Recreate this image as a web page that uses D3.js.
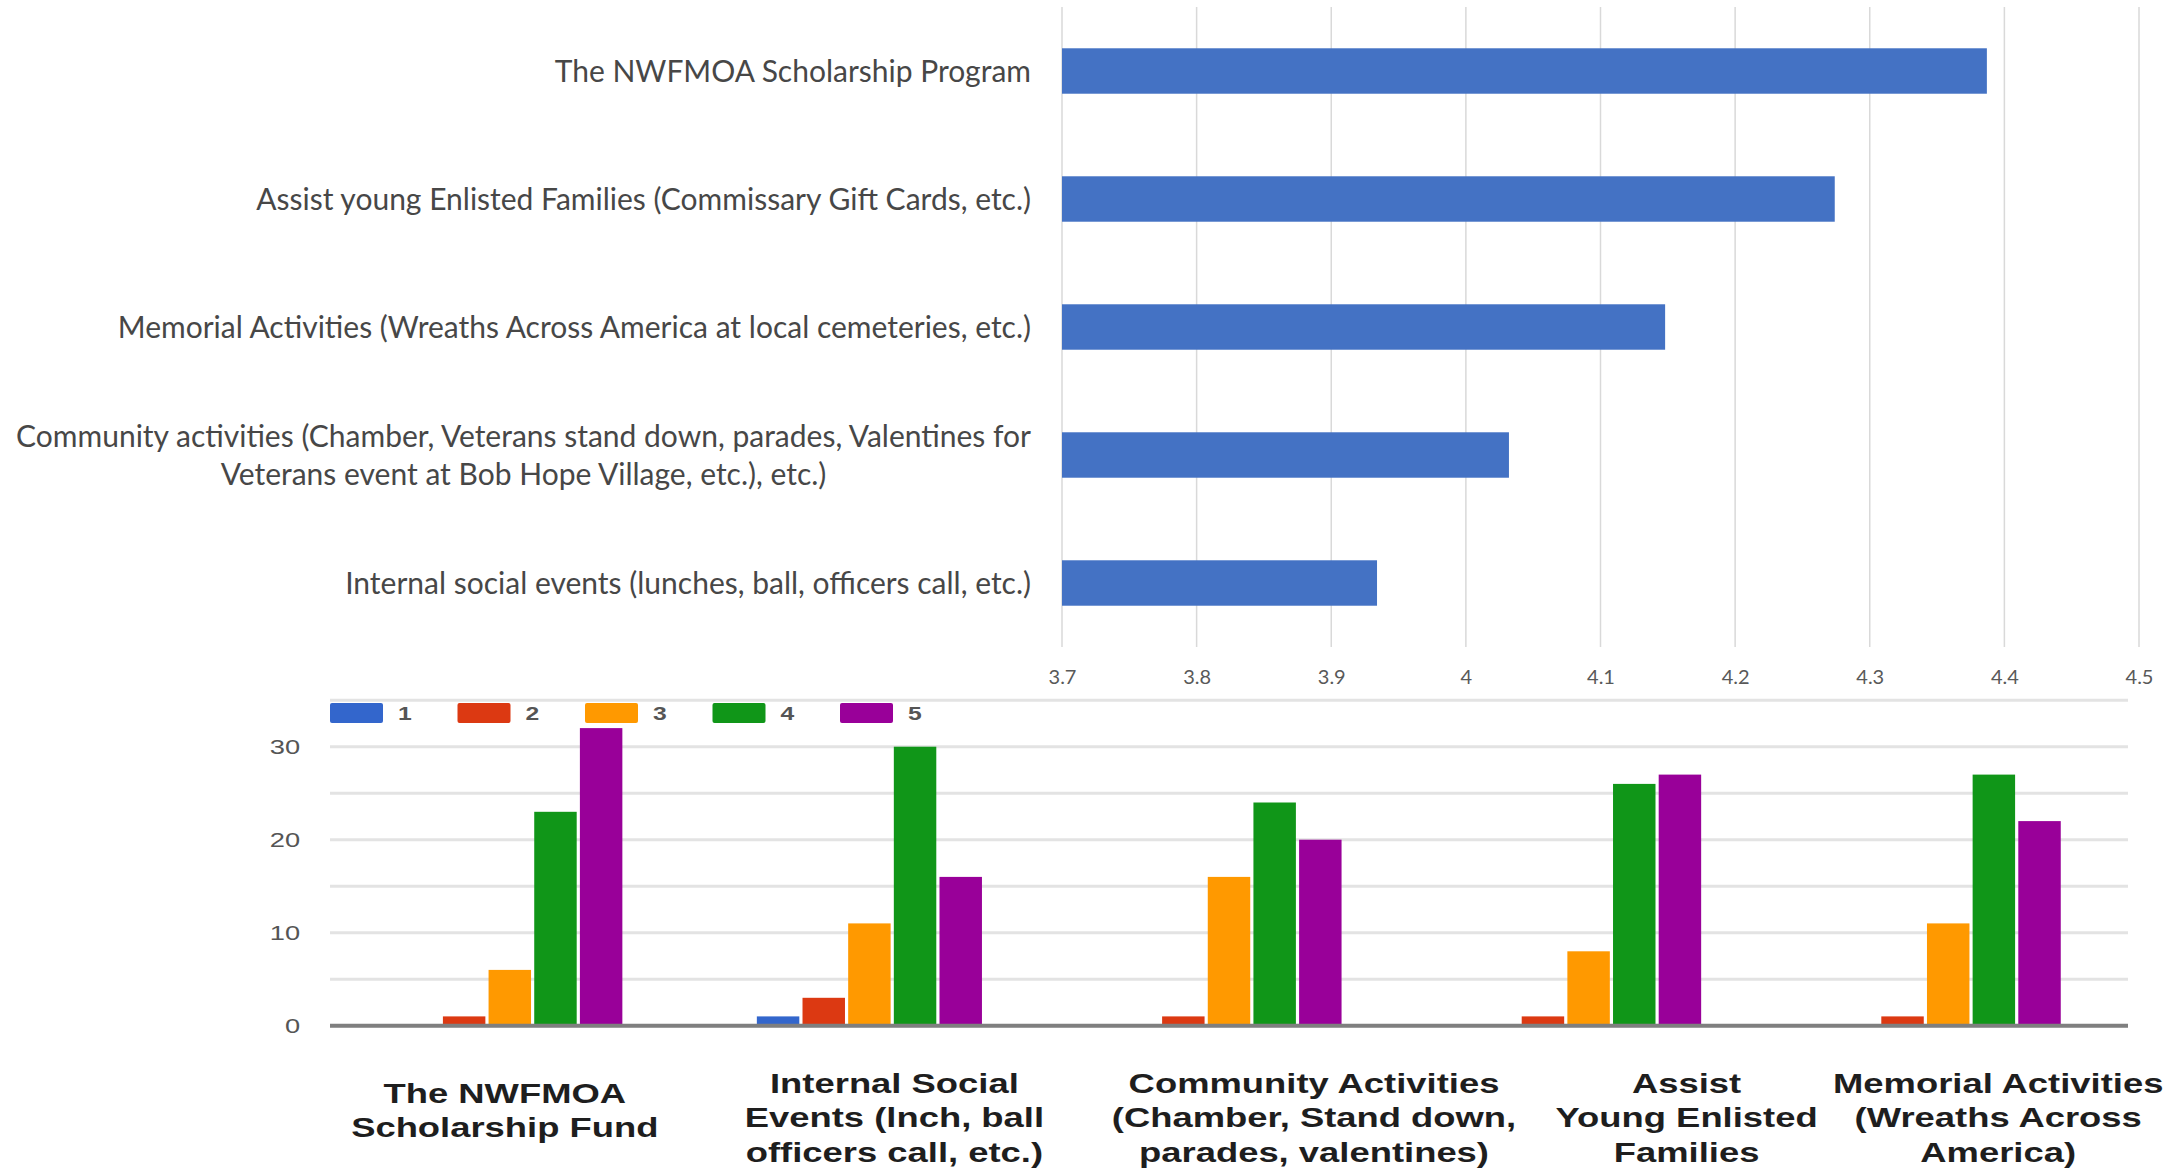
<!DOCTYPE html>
<html>
<head>
<meta charset="utf-8">
<script src="https://cdn.jsdelivr.net/npm/d3@7"></script>
<style>
  body { margin: 0; background: #fff; }
  svg { display: block; }
</style>
</head>
<body>
<svg id="chart" width="2169" height="1168"></svg>
<script>
// top chart: average rating per activity
var avgCategories = [
    ["The NWFMOA Scholarship Program"],
    ["Assist young Enlisted Families (Commissary Gift Cards, etc.)"],
    ["Memorial Activities (Wreaths Across America at local cemeteries, etc.)"],
    ["Community activities (Chamber, Veterans stand down, parades, Valentines for",
     "Veterans event at Bob Hope Village, etc.), etc.)"],
    ["Internal social events (lunches, ball, officers call, etc.)"]
];
var avgValues = [4.387, 4.274, 4.148, 4.032, 3.934];
var avgTicks = [3.7, 3.8, 3.9, 4.0, 4.1, 4.2, 4.3, 4.4, 4.5];

// bottom chart: count of each rating (1..5) per activity
var groupLabels = [
    ["The NWFMOA", "Scholarship Fund"],
    ["Internal Social", "Events (lnch, ball", "officers call, etc.)"],
    ["Community Activities", "(Chamber, Stand down,", "parades, valentines)"],
    ["Assist", "Young Enlisted", "Families"],
    ["Memorial Activities", "(Wreaths Across", "America)"]
];
var ratings = ["1", "2", "3", "4", "5"];
var rating1 = [0, 1, 0, 0, 0];
var rating2 = [1, 3, 1, 1, 1];
var rating3 = [6, 11, 16, 8, 11];
var rating4 = [23, 30, 24, 26, 27];
var rating5 = [32, 16, 20, 27, 22];
var countTicks = [0, 10, 20, 30];
var countGrid = [0, 5, 10, 15, 20, 25, 30, 35];

var ratingColors = ["#3366cc", "#dc3912", "#ff9900", "#109618", "#990099"];
// the scanned labels sit a little off their groups
var labelDx = [-5, 25, 85, 98, 50];

var svg = d3.select("#chart");

// ---------- top chart ----------
var avgChart = svg.append("g");

var x = d3.scaleLinear().domain([3.7, 4.5]).range([1062, 2139]);
var y = d3.scaleBand().domain(d3.range(avgValues.length)).range([7, 647]).paddingInner(0.645).paddingOuter(0.3225);

avgChart.append("g").selectAll("line")
    .data(avgTicks)
    .enter().append("line")
    .attr("x1", function (d) { return x(d); })
    .attr("x2", function (d) { return x(d); })
    .attr("y1", 7)
    .attr("y2", 647)
    .attr("stroke", "#d9d9d9")
    .attr("stroke-width", 1.5);

avgChart.append("g").selectAll("rect")
    .data(avgValues)
    .enter().append("rect")
    .attr("x", x(3.7))
    .attr("y", function (d, i) { return y(i); })
    .attr("width", function (d) { return x(d) - x(3.7); })
    .attr("height", y.bandwidth())
    .attr("fill", "#4472c4");

var xAxis = avgChart.append("g")
    .attr("transform", "translate(0,647)")
    .call(d3.axisBottom(x).tickValues(avgTicks).tickSize(0).tickPadding(23).tickFormat(d3.format("~g")));
xAxis.select(".domain").remove();
xAxis.selectAll("text")
    .attr("font-family", "Lato, 'Open Sans', sans-serif")
    .attr("font-size", 20)
    .attr("fill", "#595959");

var catLabels = avgChart.append("g").selectAll("text")
    .data(avgCategories)
    .enter().append("text")
    .attr("font-family", "Lato, 'Open Sans', sans-serif")
    .attr("font-size", 30)
    .attr("fill", "#474747")
    .attr("text-anchor", "end")
    .attr("transform", function (d, i) {
        return "translate(1031," + (y(i) + y.bandwidth() / 2) + ")";
    });

catLabels.each(function (lines) {
    var t = d3.select(this);
    var n = lines.length;
    lines.forEach(function (line, k) {
        t.append("tspan")
            .attr("x", 0)
            .attr("y", (k - (n - 1) / 2) * 38)
            .attr("dy", "0.35em")
            .text(line);
    });
    if (n > 1) {
        // lines centred on each other, block right aligned
        var w0 = this.getBBox().width;
        t.selectAll("tspan")
            .attr("text-anchor", "middle")
            .attr("x", -w0 / 2);
    }
});

// ---------- bottom chart ----------
var countChart = svg.append("g");
var stretch = 1.3;
var series = [rating1, rating2, rating3, rating4, rating5];

var x0 = d3.scaleBand().domain(d3.range(groupLabels.length)).range([330, 2128]).paddingInner(0.374).paddingOuter(0.187);
var x1 = d3.scaleBand().domain(d3.range(ratings.length)).range([0, x0.bandwidth()]).paddingInner(0.07);
var yc = d3.scaleLinear().domain([0, 35]).range([1025.7, 700.2]);

countChart.append("g").selectAll("line")
    .data(countGrid)
    .enter().append("line")
    .attr("x1", 330)
    .attr("x2", 2128)
    .attr("y1", function (d) { return yc(d); })
    .attr("y2", function (d) { return yc(d); })
    .attr("stroke", "#e3e3e3")
    .attr("stroke-width", 3);

var groups = countChart.append("g").selectAll("g")
    .data(groupLabels)
    .enter().append("g")
    .attr("transform", function (d, i) { return "translate(" + x0(i) + ",0)"; });

groups.selectAll("rect")
    .data(function (d, gi) {
        return series.map(function (s, si) { return { r: si, v: s[gi] }; });
    })
    .enter().append("rect")
    .attr("x", function (d) { return x1(d.r); })
    .attr("y", function (d) { return yc(d.v); })
    .attr("width", x1.bandwidth())
    .attr("height", function (d) { return yc(0) - yc(d.v); })
    .attr("fill", function (d) { return ratingColors[d.r]; });

countChart.append("line")
    .attr("x1", 330)
    .attr("x2", 2128)
    .attr("y1", yc(0))
    .attr("y2", yc(0))
    .attr("stroke", "#7f7f7f")
    .attr("stroke-width", 4);

var yAxis = countChart.append("g")
    .attr("transform", "translate(330,0)")
    .call(d3.axisLeft(yc).tickValues(countTicks).tickSize(0).tickPadding(23));
yAxis.select(".domain").remove();
yAxis.selectAll("text")
    .attr("font-family", "'Liberation Sans', Arial, sans-serif")
    .attr("font-size", 21)
    .attr("fill", "#555")
    .attr("transform", "scale(" + stretch + ",1)");

// legend
var legend = countChart.append("g").selectAll("g")
    .data(ratings)
    .enter().append("g")
    .attr("transform", function (d, i) { return "translate(" + (330 + i * 127.5) + ",703)"; });
legend.append("rect")
    .attr("width", 53)
    .attr("height", 20)
    .attr("rx", 2)
    .attr("fill", function (d, i) { return ratingColors[i]; });
legend.append("text")
    .attr("font-family", "'Liberation Sans', Arial, sans-serif")
    .attr("font-size", 19)
    .attr("font-weight", "bold")
    .attr("fill", "#555")
    .attr("transform", "translate(68,17) scale(" + stretch + ",1)")
    .text(function (d) { return d; });

// group labels
var gLabels = countChart.append("g").selectAll("text")
    .data(groupLabels)
    .enter().append("text")
    .attr("font-family", "'Liberation Sans', Arial, sans-serif")
    .attr("font-size", 28)
    .attr("font-weight", "bold")
    .attr("fill", "#1e1e1e")
    .attr("text-anchor", "middle")
    .attr("transform", function (d, i) {
        var cx = x0(i) + x0.bandwidth() / 2 + labelDx[i];
        var y0 = 1093 + (3 - d.length) * 10;
        return "translate(" + cx + "," + y0 + ") scale(" + stretch + ",1)";
    });
gLabels.each(function (lines) {
    var t = d3.select(this);
    lines.forEach(function (line, k) {
        t.append("tspan")
            .attr("x", 0)
            .attr("y", k * 34.5)
            .text(line);
    });
});
</script>
</body>
</html>
